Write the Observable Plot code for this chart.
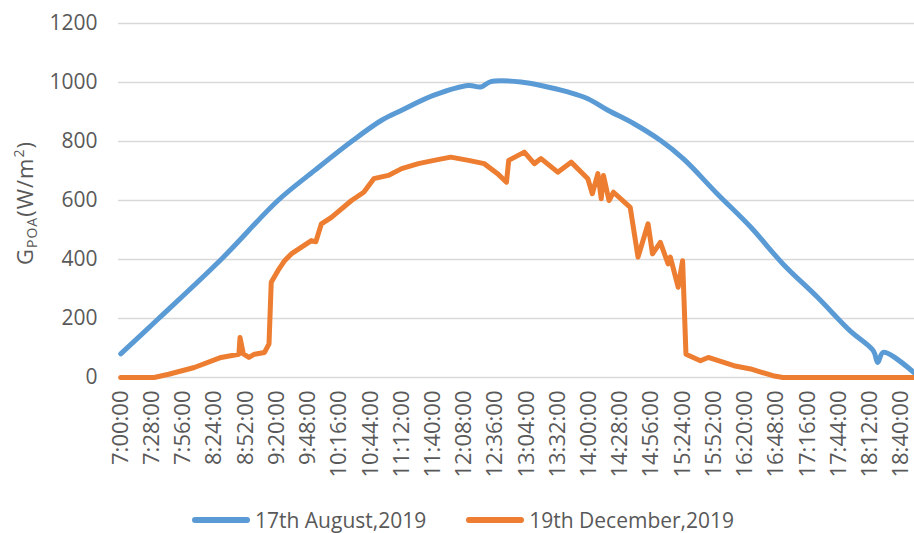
<!DOCTYPE html>
<html>
<head>
<meta charset="utf-8">
<script src="https://cdn.jsdelivr.net/npm/d3@7"></script>
<script src="https://cdn.jsdelivr.net/npm/@observablehq/plot@0.6"></script>
<style>
  html, body { margin: 0; padding: 0; background: #fff; }
  body { width: 914px; height: 533px; position: relative; overflow: hidden; font-family: "Open Sans", sans-serif; }
  #chart svg { display: block; }
  #legend { position: absolute; left: 192px; top: 508px; height: 24px; display: flex; align-items: center; color: #595959; font-size: 21px; line-height: 24px; white-space: nowrap; }
  #legend .item { display: flex; align-items: center; height: 24px; }
  #legend .item + .item { margin-left: 40px; }
  #legend .sw { display: inline-block; width: 58px; height: 6px; border-radius: 3px; margin-right: 5px; }
</style>
</head>
<body>
<div id="chart"></div>
<div id="legend"></div>
<script>
// ---- data ----
const seriesNames = ["17th August,2019", "19th December,2019"];
const seriesColors = ["#5B9BD5", "#ED7D31"];

const augustTime = ["7:00","7:34","8:30","9:21","9:54","10:27","10:54","11:12","11:41","12:12","12:23","12:32","12:59","13:17","13:41","13:59","14:17","14:40","15:04","15:25","15:55","16:25","16:54","17:25","17:54","18:15","18:19","18:24","18:52"];
const augustGpoa = [80,200,400,600,702,800,872,906,957,990,985,1003,1002,990,968,945,906,861,804,740,623,510,385,272,159,91,51,85,15];

const decemberTime = ["7:00","7:30","7:43","8:06","8:30","8:46","8:47","8:50","8:55","9:00","9:09","9:13","9:15","9:21","9:27","9:33","9:51","9:55","10:00","10:09","10:27","10:38","10:47","11:00","11:12","11:27","11:41","11:56","12:12","12:26","12:38","12:46","12:48","13:02","13:11","13:17","13:32","13:44","13:59","14:03","14:08","14:11","14:13","14:18","14:22","14:37","14:44","14:53","14:57","15:04","15:11","15:13","15:20","15:24","15:27","15:40","15:47","16:10","16:25","16:45","16:54","18:52"];
const decemberGpoa = [0,0,11,34,68,79,136,80,68,79,85,114,323,362,396,419,464,460,521,543,600,628,674,685,708,725,736,747,736,725,691,662,736,764,725,742,696,730,674,623,691,606,685,600,628,577,408,521,419,458,385,408,306,396,79,57,68,40,29,6,0,0];

const yTicks = [0, 200, 400, 600, 800, 1000, 1200];
const xTickLabels = ["7:00:00","7:28:00","7:56:00","8:24:00","8:52:00","9:20:00","9:48:00","10:16:00","10:44:00","11:12:00","11:40:00","12:08:00","12:36:00","13:04:00","13:32:00","14:00:00","14:28:00","14:56:00","15:24:00","15:52:00","16:20:00","16:48:00","17:16:00","17:44:00","18:12:00","18:40:00"];
const yLabel = { main: "G", sub: "POA", unit: "(W/m", sup: "2", close: ")" };

// ---- helpers ----
const toMin = t => { const p = t.split(":").map(Number); return (p[0] - 7) * 60 + p[1]; };
const xTicks = xTickLabels.map(toMin);
const fmt = m => xTickLabels[xTicks.indexOf(m)];

const augRows = augustTime.map((t, i) => ({ series: seriesNames[0], m: toMin(t), v: augustGpoa[i] }));
const decRows = decemberTime.map((t, i) => ({ series: seriesNames[1], m: toMin(t), v: decemberGpoa[i] }));

const font = "'Open Sans', sans-serif";
const plot = Plot.plot({
  width: 914,
  height: 500,
  marginLeft: 118,
  marginRight: 0,
  marginTop: 23,
  marginBottom: 123,
  style: { fontFamily: font, color: "#595959", background: "#fff", overflow: "visible" },
  x: { domain: [-2, 712] },
  y: { domain: [0, 1200] },
  color: { domain: seriesNames, range: seriesColors },
  marks: [
    Plot.gridY(yTicks, { stroke: "#D9D9D9", strokeOpacity: 1, strokeWidth: 1.3 }),
    Plot.axisY(yTicks, { tickSize: 0, tickPadding: 21, label: null, fontSize: 21, fill: "#595959", tickFormat: d => String(d) }),
    Plot.axisX(xTicks, { tickSize: 0, tickRotate: -90, tickPadding: 13, label: null, tickFormat: fmt, fontSize: 22, fill: "#595959" }),
    Plot.line(augRows, { x: "m", y: "v", stroke: "series", strokeWidth: 5, curve: "catmull-rom", strokeLinejoin: "round" }),
    Plot.line(decRows, { x: "m", y: "v", stroke: "series", strokeWidth: 5, strokeLinejoin: "round" })
  ]
});

document.getElementById("chart").appendChild(plot);

// y-axis title with subscript / superscript
const svg = d3.select(plot);
const t = svg.append("text")
  .attr("transform", "translate(33,203) rotate(-90)")
  .attr("text-anchor", "middle")
  .attr("fill", "#595959")
  .style("font-family", font)
  .style("font-size", "22px")
  .style("letter-spacing", "1px");
t.append("tspan").text(yLabel.main);
t.append("tspan").text(yLabel.sub).style("font-size", "14px").attr("dy", 4);
t.append("tspan").text(yLabel.unit).attr("dy", -4);
t.append("tspan").text(yLabel.sup).style("font-size", "14px").attr("dy", -9);
t.append("tspan").text(yLabel.close).attr("dy", 9);

// legend
const legend = d3.select("#legend");
seriesNames.forEach((name, i) => {
  const item = legend.append("div").attr("class", "item");
  item.append("span").attr("class", "sw").style("background", seriesColors[i]);
  item.append("span").text(name);
});
</script>
</body>
</html>
